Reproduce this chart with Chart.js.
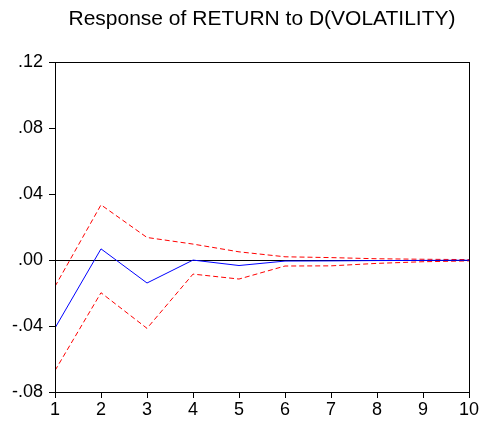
<!DOCTYPE html>
<html>
<head>
<meta charset="utf-8">
<script src="https://cdn.jsdelivr.net/npm/chart.js@4/dist/chart.umd.min.js"></script>
<style>
html,body{margin:0;padding:0;background:#fff;}
canvas{display:block;}
</style>
</head>
<body>
<canvas id="c" width="483" height="421"></canvas>
<script>
const periods = [1,2,3,4,5,6,7,8,9,10];
const response = [-0.0412, 0.0068, -0.0139, 0.0000, -0.0033, -0.0006, -0.0005, -0.0003, -0.0002, -0.0001];
const upperBand = [-0.0160, 0.0335, 0.0137, 0.0097, 0.0050, 0.0020, 0.0015, 0.0008, 0.0005, 0.0003];
const lowerBand = [-0.0670, -0.0198, -0.0414, -0.0085, -0.0115, -0.0036, -0.0035, -0.0020, -0.0010, -0.0005];
const yTicks = [-0.08, -0.04, 0.00, 0.04, 0.08, 0.12];

function fmt(v){
  const r = Math.round(v*100)/100;
  let s = Math.abs(r).toFixed(2).replace(/^0/, '');
  return (r < 0 ? '-' : '') + s;
}
const toXY = arr => arr.map((v,i)=>({x:periods[i], y:v}));
const FONT = '"Liberation Sans", Arial, sans-serif';

const frame = {
  id:'frame',
  afterDraw(chart){
    const a = chart.chartArea, c = chart.ctx;
    c.save();
    c.strokeStyle = '#000';
    c.lineWidth = 1;
    c.strokeRect(Math.round(a.left)+0.5, Math.round(a.top)+0.5, Math.round(a.right-a.left), Math.round(a.bottom-a.top));
    c.restore();
  }
};

new Chart(document.getElementById('c'), {
  type:'line',
  data:{
    datasets:[
      {data:toXY(response), borderColor:'#0000FF', borderWidth:1, pointRadius:0, tension:0, fill:false},
      {data:toXY(upperBand), borderColor:'#FF0000', borderWidth:1, borderDash:[5,3], pointRadius:0, tension:0, fill:false},
      {data:toXY(lowerBand), borderColor:'#FF0000', borderWidth:1, borderDash:[5,3], pointRadius:0, tension:0, fill:false}
    ]
  },
  options:{
    responsive:false,
    animation:false,
    layout:{padding:{left:0, right:14, top:0, bottom:0}},
    plugins:{
      legend:{display:false},
      tooltip:{enabled:false},
      title:{display:true, fullSize:false, text:'Response of RETURN to D(VOLATILITY)', color:'#000',
        font:{family:FONT, size:21, weight:'normal'},
        padding:{top:7, bottom:30}}
    },
    scales:{
      x:{type:'linear', min:1, max:10,
        afterFit(s){ s.height = 29; },
        ticks:{stepSize:1, color:'#000', padding:1, maxRotation:0,
          font:{family:FONT, size:18}},
        grid:{drawOnChartArea:false, drawTicks:true, tickLength:6, color:'#000'},
        border:{display:true, color:'#000'}
      },
      y:{type:'linear', min:-0.08, max:0.12,
        afterFit(s){ s.width = 55; },
        afterBuildTicks(s){ s.ticks = yTicks.map(v=>({value:v})); },
        ticks:{color:'#000', padding:6, callback:v=>fmt(v),
          font:{family:FONT, size:18}},
        grid:{drawOnChartArea:true, drawTicks:true, tickLength:6,
          color:ctx=> (ctx.tick && Math.abs(ctx.tick.value)<1e-9) ? '#000' : 'rgba(0,0,0,0)',
          tickColor:'#000'},
        border:{display:true, color:'#000'}
      }
    }
  },
  plugins:[frame]
});
</script>
</body>
</html>
